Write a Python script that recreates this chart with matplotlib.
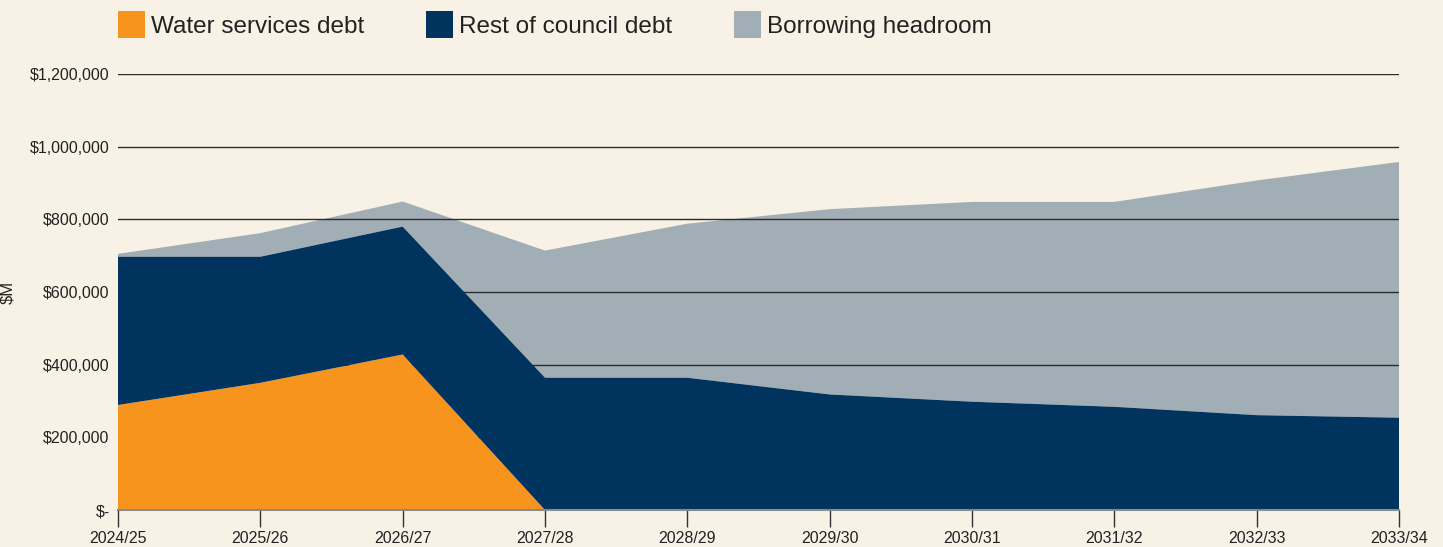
import matplotlib.pyplot as plt
from matplotlib.ticker import FuncFormatter

years = ["2024/25", "2025/26", "2026/27", "2027/28", "2028/29",
         "2029/30", "2030/31", "2031/32", "2032/33", "2033/34"]
water_debt = [289000, 350000, 428000, 0, 0, 0, 0, 0, 0, 0]
rest_debt = [408000, 347000, 352000, 364000, 364000, 318000, 298000, 284000, 261000, 254000]
headroom = [8000, 65000, 69000, 350000, 424000, 510000, 550000, 564000, 646000, 704000]
labels = ["Water services debt", "Rest of council debt", "Borrowing headroom"]
colors = ["#F7941D", "#00335E", "#A2AEB5"]

bg = "#F8F2E6"
plt.rcParams['font.family'] = ['Liberation Sans', 'DejaVu Sans']

fig = plt.figure(figsize=(14.43, 5.47), dpi=100, facecolor=bg)
ax = fig.add_axes([118/1443, 1-510/547, (1399-118)/1443, (510-74)/547])
ax.set_facecolor(bg)

x = list(range(len(years)))
polys = ax.stackplot(x, water_debt, rest_debt, headroom, colors=colors, labels=labels, linewidth=0)
# gridlines show over the headroom area but not over the debt areas
polys[0].set_zorder(3)
polys[1].set_zorder(3)
polys[2].set_zorder(1)

ax.set_xlim(0, len(years)-1)
ax.set_ylim(0, 1200000)
ax.set_yticks(range(0, 1200001, 200000))
ax.yaxis.set_major_formatter(FuncFormatter(lambda v, p: "$-" if v == 0 else "${:,.0f}".format(v)))
ax.set_xticks(x)
ax.set_xticklabels(years)

ax.grid(axis='y', color='#2b2b2b', linewidth=1)
ax.set_axisbelow(False)
for s in ['top', 'right', 'left']:
    ax.spines[s].set_visible(False)
ax.spines['bottom'].set_color('#8a8a8a')
ax.spines['bottom'].set_linewidth(1.5)
ax.spines['bottom'].set_zorder(4)
ax.tick_params(axis='x', length=12, width=1, color='#333333', labelsize=11.5, labelcolor='#222222', pad=3)
ax.tick_params(axis='y', length=0, labelsize=11.5, labelcolor='#222222', pad=6)
ax.set_ylabel("$M", fontsize=12, color='#222222')
ax.yaxis.set_label_coords((15-118)/1281, 0.5)

fig.legend(loc='upper left', bbox_to_anchor=(118/1443, 1-11/547), ncol=3, frameon=False,
           fontsize=17.5, handlelength=1.1, handleheight=1.35, handletextpad=0.25,
           columnspacing=2.55, borderpad=0, borderaxespad=0, labelcolor='#222222')

plt.savefig("out.png", dpi=100, facecolor=bg)
